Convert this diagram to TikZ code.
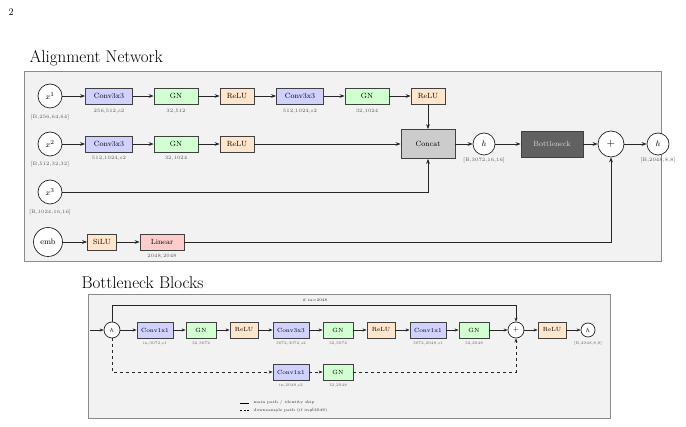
\documentclass[tikz,border=0pt]{standalone}
\usetikzlibrary{arrows.meta}
\begin{document}
\begin{tikzpicture}[x=1pt,y=-1pt,
 blk/.style={draw=black!75,line width=0.8pt,minimum height=16pt,inner sep=1pt,font=\fontsize{7.5}{8}\selectfont},
 conv/.style={blk,fill=blue!18!white,minimum width=47pt},
 gn/.style={blk,fill=green!18!white,minimum width=44pt},
 relu/.style={blk,fill=orange!20!white,minimum width=34pt},
 cir/.style={circle,draw=black!85,line width=0.7pt,fill=white,inner sep=0pt,font=\fontsize{8}{9}\selectfont},
 lab/.style={font=\fontsize{5}{6}\selectfont,text=black!65},
 arr/.style={-{Stealth[length=5pt]},line width=0.8pt,draw=black!85},
 panel/.style={fill=black!5,draw=black!45,line width=0.8pt},
 sconv/.style={blk,fill=blue!18!white,minimum width=36pt,minimum height=16pt,font=\fontsize{6}{7}\selectfont},
 sgn/.style={blk,fill=green!18!white,minimum width=30pt,minimum height=16pt,font=\fontsize{6}{7}\selectfont},
 srelu/.style={blk,fill=orange!20!white,minimum width=28pt,minimum height=16pt,font=\fontsize{6}{7}\selectfont},
 slab/.style={font=\fontsize{4}{5}\selectfont,text=black!60},
 sarr/.style={-{Stealth[length=4pt]},line width=0.6pt,draw=black!85}]
\useasboundingbox (0,0) rectangle (686,427);
\node[anchor=west] (pg) at (5,12) {\fontsize{10}{12}\selectfont 2};
% top panel
\draw[panel] (24,71) rectangle (661,261);
\node[anchor=west] (t1) at (26,58) {\fontsize{17}{20}\selectfont Alignment Network};
\node[cir,minimum size=24pt] (x1) at (50,96) {$x^1$};
\node[lab] (lx1) at (50,117) {[B,256,64,64]};
\node[conv] (c1) at (109,96) {Conv3x3}; \node[lab] (lc1) at (109,111) {256,512,s2};
\node[gn] (g1) at (176,96) {GN}; \node[lab] (lg1) at (176,111) {32,512};
\node[relu] (r1) at (237,96) {ReLU};
\node[conv] (c2) at (300,96) {Conv3x3}; \node[lab] (lc2) at (300,111) {512,1024,s2};
\node[gn] (g2) at (367,96) {GN}; \node[lab] (lg2) at (367,111) {32,1024};
\node[relu] (r2) at (428,96) {ReLU};
\node[cir,minimum size=24pt] (x2) at (50,144) {$x^2$};
\node[lab] (lx2) at (50,164) {[B,512,32,32]};
\node[conv] (c3) at (109,144) {Conv3x3}; \node[lab] (lc3) at (109,158) {512,1024,s2};
\node[gn] (g3) at (176,144) {GN}; \node[lab] (lg3) at (176,158) {32,1024};
\node[relu] (r3) at (237,144) {ReLU};
\node[blk,fill=black!20,minimum width=54pt,minimum height=29pt] (cc) at (428,144) {Concat};
\node[cir,minimum size=22pt] (h1) at (484,144) {$h$};
\node[lab] (lh1) at (484,160) {[B,3072,16,16]};
\node[blk,fill=black!62,text=white!85!black,minimum width=62pt,minimum height=26pt] (bn) at (552,144) {Bottleneck};
\node[cir,minimum size=26pt,font=\fontsize{11}{12}\selectfont] (pl) at (611,144) {$+$};
\node[cir,minimum size=22pt] (h2) at (658,144) {$h$};
\node[lab] (lh2) at (658,160) {[B,2048,8,8]};
\node[cir,minimum size=24pt] (x3) at (50,192) {$x^3$};
\node[lab] (lx3) at (50,212) {[B,1024,16,16]};
\node[cir,minimum size=29pt] (emb) at (48,242) {emb};
\node[relu,minimum width=29pt] (si) at (102,242) {SiLU};
\node[blk,fill=red!20!white,minimum width=44pt] (li) at (162,242) {Linear};
\node[lab] (lli) at (162,256) {2048,2048};
\draw[arr] (x1)--(c1); \draw[arr] (c1)--(g1); \draw[arr] (g1)--(r1); \draw[arr] (r1)--(c2); \draw[arr] (c2)--(g2); \draw[arr] (g2)--(r2);
\draw[arr] (r2)--(cc);
\draw[arr] (x2)--(c3); \draw[arr] (c3)--(g3); \draw[arr] (g3)--(r3); \draw[arr] (r3)--(cc);
\draw[arr] (x3) -| (cc);
\draw[arr] (cc)--(h1); \draw[arr] (h1)--(bn); \draw[arr] (bn)--(pl); \draw[arr] (pl)--(h2);
\draw[arr] (emb)--(si); \draw[arr] (si)--(li); \draw[arr] (li) -| (pl);
% bottom panel
\draw[panel] (88,294) rectangle (610,418);
\node[anchor=west] (t2) at (78,283) {\fontsize{17}{20}\selectfont Bottleneck Blocks};
\coordinate (in) at (90,330);
\node[cir,minimum size=16pt,font=\fontsize{6}{7}\selectfont] (bh) at (112,330) {$h$};
\node[sconv] (b1) at (155,330) {Conv1x1}; \node[slab] (lb1) at (155,344) {in,3072,s1};
\node[sgn] (b2) at (201,330) {GN}; \node[slab] (lb2) at (201,344) {32,3072};
\node[srelu] (b3) at (244,330) {ReLU};
\node[sconv] (b4) at (291,330) {Conv3x3}; \node[slab] (lb4) at (291,344) {3072,3072,s2};
\node[sgn] (b5) at (338,330) {GN}; \node[slab] (lb5) at (338,344) {32,3072};
\node[srelu] (b6) at (381,330) {ReLU};
\node[sconv] (b7) at (428,330) {Conv1x1}; \node[slab] (lb7) at (428,344) {3072,2048,s1};
\node[sgn] (b8) at (474,330) {GN}; \node[slab] (lb8) at (474,344) {32,2048};
\node[cir,minimum size=16pt,font=\fontsize{7}{8}\selectfont] (bp) at (516,330) {$+$};
\node[srelu] (b9) at (552,330) {ReLU};
\node[cir,minimum size=14pt,font=\fontsize{6}{7}\selectfont] (bo) at (588,330) {$h$};
\node[slab] (lbo) at (588,344) {[B,2048,8,8]};
\node[sconv] (d1) at (291,372) {Conv1x1}; \node[slab] (ld1) at (291,386) {in,2048,s2};
\node[sgn] (d2) at (338,372) {GN}; \node[slab] (ld2) at (338,386) {32,2048};
\coordinate (top) at (112,305);
\node[slab,text=black!80] (ifl) at (315,300) {if in=2048};
\draw[sarr] (in)--(bh);
\draw[sarr] (bh)--(b1); \draw[sarr] (b1)--(b2); \draw[sarr] (b2)--(b3); \draw[sarr] (b3)--(b4); \draw[sarr] (b4)--(b5); \draw[sarr] (b5)--(b6); \draw[sarr] (b6)--(b7); \draw[sarr] (b7)--(b8); \draw[sarr] (b8)--(bp); \draw[sarr] (bp)--(b9); \draw[sarr] (b9)--(bo);
\draw[sarr] (bh) -- (top) -| (bp);
\draw[sarr,dashed] (bh) |- (d1);
\draw[sarr,dashed] (d1)--(d2);
\draw[sarr,dashed] (d2) -| (bp);
\coordinate (la) at (240,403); \coordinate (lb) at (249,403);
\coordinate (lc) at (240,410); \coordinate (ld) at (249,410);
\draw[line width=0.6pt] (la)--(lb);
\draw[line width=0.6pt,dash pattern=on 2pt off 1.5pt] (lc)--(ld);
\node[slab,text=black!80,anchor=west] (l1) at (250,403) {main path / identity skip};
\node[slab,text=black!80,anchor=west] (l2) at (250,410) {downsample path (if in$\neq$2048)};
\end{tikzpicture}
\end{document}
